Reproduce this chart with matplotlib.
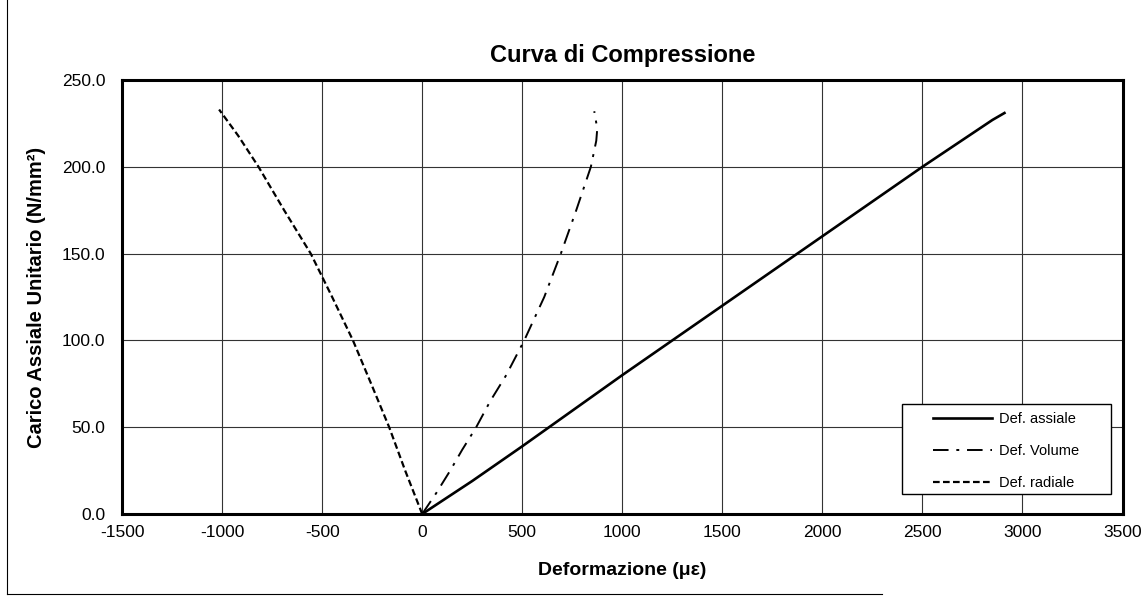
import matplotlib
matplotlib.use("Agg")
import matplotlib.pyplot as plt
from matplotlib.patches import Rectangle
from matplotlib.ticker import FormatStrFormatter

plt.rcParams['font.family'] = ['Liberation Sans', 'DejaVu Sans']
plt.rcParams['axes.unicode_minus'] = False

# Def. assiale (solid)
ax_x = [0, 250, 500, 1000, 1500, 2000, 2500, 2850, 2910]
ax_y = [0, 19, 39, 80, 120, 160, 200, 227, 231]

# Def. Volume (dash-dot)
vol_x = [0, 70, 140, 200, 270, 340, 420, 510, 610, 693, 770, 843, 870, 875, 860]
vol_y = [0, 12, 25, 37, 50, 65, 80, 100, 125, 150, 175, 200, 215, 222, 232]

# Def. radiale (dashed)
rad_x = [0, -85, -165, -255, -346, -450, -557, -690, -818, -920, -1015]
rad_y = [0, 25, 50, 75, 100, 125, 150, 175, 200, 218, 233]

xticks = [-1500, -1000, -500, 0, 500, 1000, 1500, 2000, 2500, 3000, 3500]
yticks = [0, 50, 100, 150, 200, 250]

fig = plt.figure(figsize=(11.46, 6.03), dpi=100)
ax = fig.add_axes([0.1065, 0.1476, 0.873, 0.7197])

ax.plot(ax_x, ax_y, color='black', lw=1.9, ls='-', label='Def. assiale')
ax.plot(vol_x, vol_y, color='black', lw=1.4, ls=(0, (8, 4, 1.5, 4)), label='Def. Volume')
ax.plot(rad_x, rad_y, color='black', lw=1.6, ls=(0, (3, 1.5)), label='Def. radiale')

ax.set_xlim(-1500, 3500)
ax.set_ylim(0, 250)
ax.set_xticks(xticks)
ax.set_yticks(yticks)
ax.yaxis.set_major_formatter(FormatStrFormatter('%.1f'))
ax.grid(True, color='#333333', lw=0.8)
ax.tick_params(length=0, labelsize=12.5)
ax.tick_params(axis='x', pad=8)
ax.tick_params(axis='y', pad=12)
for s in ax.spines.values():
    s.set_linewidth(2.2)

ax.set_title('Curva di Compressione', fontsize=17, fontweight='bold', pad=13)
ax.set_xlabel('Deformazione (\u03bc\u03b5)', fontsize=14, fontweight='bold', labelpad=16)
ax.set_ylabel('Carico Assiale Unitario (N/mm\u00b2)', fontsize=14.5, fontweight='bold', labelpad=11)

# legend box, drawn separately so its padding can match the original
ax.add_patch(Rectangle((0.78, 0.046), 0.208, 0.207, transform=ax.transAxes,
                       facecolor='white', edgecolor='black', lw=1.0, zorder=4))
leg = ax.legend(loc='upper left', bbox_to_anchor=(0.811, 0.234), fontsize=10.5,
                frameon=False, handlelength=4.0, handletextpad=0.5,
                labelspacing=1.22, borderpad=0, borderaxespad=0)
leg.set_zorder(5)

# scanned page border
fig.add_artist(plt.Line2D([0.006, 0.006], [0.015, 1.0], color='black', lw=0.8))
fig.add_artist(plt.Line2D([0.006, 0.77], [0.015, 0.015], color='black', lw=0.8))

fig.savefig('out.png', dpi=100)
